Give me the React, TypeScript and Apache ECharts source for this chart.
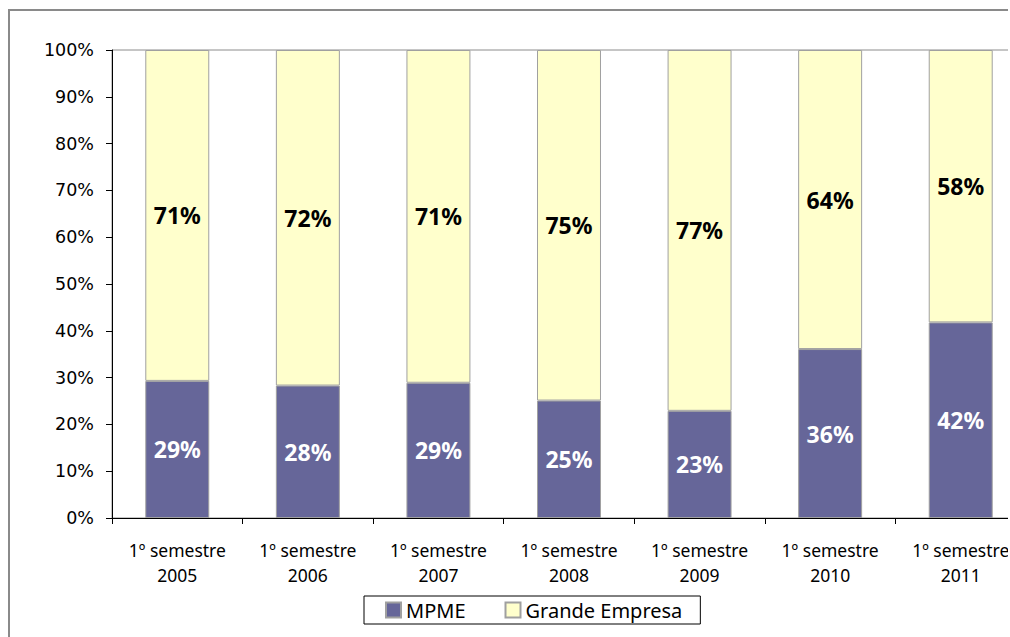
import React, { useEffect, useRef } from "react";
import * as echarts from "echarts";

const categories = [
  "1º semestre\n2005",
  "1º semestre\n2006",
  "1º semestre\n2007",
  "1º semestre\n2008",
  "1º semestre\n2009",
  "1º semestre\n2010",
  "1º semestre\n2011",
];
const mpme = [29.3, 28.3, 28.9, 25.1, 22.9, 36.1, 41.8];
const grandeEmpresa = [70.7, 71.7, 71.1, 74.9, 77.1, 63.9, 58.2];
const yTicks = { min: 0, max: 100, interval: 10 };

export default function App() {
  const ref = useRef<HTMLDivElement>(null);
  useEffect(() => {
    document.body.style.overflow = "hidden";
    if (!ref.current) return;
    const chart = echarts.init(ref.current, null, { renderer: "svg" });
    const labelFmt = (p: any) => Math.round(p.value) + "%";
    chart.setOption({
      animation: false,
      grid: {
        left: 112,
        right: 0,
        top: 50,
        bottom: 119,
        show: true,
        borderColor: "#8c8c8c",
        borderWidth: 1,
        backgroundColor: "transparent",
      },
      legend: {
        top: 596,
        left: 364,
        data: ["MPME", "Grande Empresa"],
        itemWidth: 15,
        itemHeight: 15,
        itemGap: 39,
        icon: "rect",
        borderColor: "#000",
        borderWidth: 1,
        padding: [4, 18, 4, 21],
        textStyle: { fontFamily: "Noto Sans", fontSize: 20, color: "#000" },
      },
      xAxis: {
        type: "category",
        data: categories,
        axisLine: { lineStyle: { color: "#000", width: 1 } },
        axisTick: { show: true, length: 6, lineStyle: { color: "#000" } },
        axisLabel: {
          fontFamily: "Noto Sans",
          fontSize: 17.5,
          color: "#000",
          lineHeight: 25,
          margin: 19,
          interval: 0,
        },
      },
      yAxis: {
        type: "value",
        min: yTicks.min,
        max: yTicks.max,
        interval: yTicks.interval,
        splitLine: { show: false },
        axisLine: { show: true, lineStyle: { color: "#000", width: 1 } },
        axisTick: { show: true, length: 6, lineStyle: { color: "#000" } },
        axisLabel: {
          formatter: "{value}%",
          fontFamily: "DejaVu Sans",
          fontSize: 17.5,
          color: "#000",
          margin: 18,
        },
      },
      series: [
        {
          name: "MPME",
          type: "bar",
          stack: "total",
          data: mpme,
          barWidth: "49%",
          itemStyle: { color: "#666699", borderColor: "#a0a0a0", borderWidth: 1 },
          label: {
            show: true,
            position: "inside",
            formatter: labelFmt,
            color: "#ffffff",
            fontFamily: "Noto Sans",
            fontWeight: "bold",
            fontSize: 23,
          },
        },
        {
          name: "Grande Empresa",
          type: "bar",
          stack: "total",
          data: grandeEmpresa,
          barWidth: "49%",
          itemStyle: { color: "#FFFFCC", borderColor: "#a0a0a0", borderWidth: 1 },
          label: {
            show: true,
            position: "inside",
            formatter: labelFmt,
            color: "#000000",
            fontFamily: "Noto Sans",
            fontWeight: "bold",
            fontSize: 23,
          },
        },
      ],
    });
    return () => chart.dispose();
  }, []);
  return (
    <div
      style={{
        position: "fixed",
        left: 0,
        top: 0,
        width: 1010,
        height: 637,
        overflow: "hidden",
        background: "#fff",
      }}
    >
      <div
        style={{
          position: "absolute",
          left: 0,
          top: 0,
          width: 1008,
          height: 637,
          overflow: "hidden",
        }}
      >
        <div
          style={{
            position: "absolute",
            left: 8,
            top: 9,
            width: 1100,
            height: 700,
            borderLeft: "2px solid #8a8a8a",
            borderTop: "2px solid #8a8a8a",
            boxSizing: "border-box",
          }}
        />
        <div
          ref={ref}
          style={{ position: "absolute", left: 0, top: 0, width: 1026, height: 637 }}
        />
      </div>
    </div>
  );
}
